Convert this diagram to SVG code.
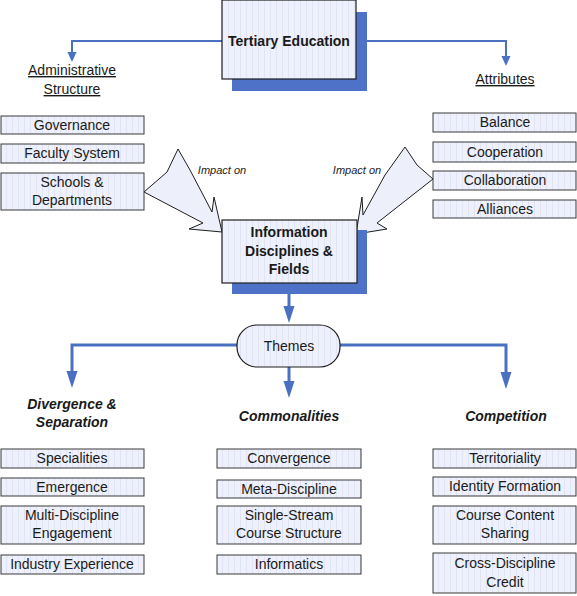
<svg xmlns="http://www.w3.org/2000/svg" width="577" height="596" viewBox="0 0 577 596">
<defs>
<style>
.box{fill:url(#grid);stroke:#3a3a3a;stroke-width:1}
.main{fill:url(#grid);stroke:#1e1e1e;stroke-width:1.2}
.shadow{fill:#4e72c8}
.t{font-family:"Liberation Sans",Arial,sans-serif;font-size:14px;fill:#1a1a1a;text-anchor:middle}
.b{font-weight:bold}
.h{font-weight:bold;font-style:italic}
.u{text-decoration:underline}
.imp{font-family:"Liberation Sans",Arial,sans-serif;font-size:11px;font-style:italic;fill:#222;text-anchor:middle}
.con{fill:none;stroke:#4a70c2}
.thin{stroke-width:2}
.thick{stroke-width:3}
.blk{fill:#edf0fb;stroke:#1e1e1e;stroke-width:1}
</style>
<pattern id="grid" patternUnits="userSpaceOnUse" width="6" height="6">
<rect width="6" height="6" fill="#eef0fb"/>
<line x1="0.5" y1="0" x2="0.5" y2="6" stroke="#e0e4f4" stroke-width="1"/>
</pattern>
<marker id="ahS" markerUnits="userSpaceOnUse" markerWidth="11" markerHeight="10" refX="6" refY="4.5" orient="auto">
<path d="M0,0 L10,4.5 L0,9 z" fill="#4a70c2"/>
</marker>
<marker id="ahL" markerUnits="userSpaceOnUse" markerWidth="18" markerHeight="12" refX="10" refY="5.5" orient="auto">
<path d="M0,0 L17,5.5 L0,11 z" fill="#4a70c2"/>
</marker>
</defs>
<rect width="577" height="596" fill="#ffffff"/>

<g id="connectors">
<path class="con thin" d="M222,41 H72 V58" marker-end="url(#ahS)"/>
<path class="con thin" d="M356,41 H506 V62" marker-end="url(#ahS)"/>
<path class="con thick" d="M289,294 V316" marker-end="url(#ahL)"/>
<path class="con thick" d="M237,345 H72 V381" marker-end="url(#ahL)"/>
<path class="con thick" d="M340,345 H506 V382" marker-end="url(#ahL)"/>
<path class="con thick" d="M289,367 V391" marker-end="url(#ahL)"/>
<polygon class="blk" points="144,192 167,172 178,149 190,170 212,212 214,197 222,232 189,229 203,223"/>
<polygon class="blk" points="433,179 417,165 405,147 385,175 363,215 362,197 356,234 387,229 377,223"/>
<text class="imp" x="222" y="174">Impact on</text>
<text class="imp" x="357" y="174">Impact on</text>
</g>

<g id="tertiary">
<rect class="shadow" x="232" y="12" width="135" height="79"/>
<rect class="main" x="222" y="0" width="134" height="79"/>
<text class="t b" x="289" y="46">Tertiary Education</text>
</g>

<g id="admin">
<text class="t u" x="72" y="75">Administrative</text>
<text class="t u" x="72" y="94">Structure</text>
</g>
<g id="attributes">
<text class="t u" x="505" y="84">Attributes</text>
</g>

<g id="governance"><rect class="box" x="1" y="116" width="143" height="18"/><text class="t" x="72" y="130">Governance</text></g>
<g id="faculty"><rect class="box" x="1" y="144" width="143" height="19"/><text class="t" x="72" y="158">Faculty System</text></g>
<g id="schools"><rect class="box" x="1" y="173" width="143" height="37"/><text class="t" x="72" y="187">Schools &amp;</text><text class="t" x="72" y="205">Departments</text></g>

<g id="balance"><rect class="box" x="433" y="113" width="143" height="19"/><text class="t" x="505" y="127">Balance</text></g>
<g id="cooperation"><rect class="box" x="433" y="142" width="143" height="20"/><text class="t" x="505" y="157">Cooperation</text></g>
<g id="collaboration"><rect class="box" x="433" y="171" width="143" height="19"/><text class="t" x="505" y="185">Collaboration</text></g>
<g id="alliances"><rect class="box" x="433" y="200" width="143" height="18"/><text class="t" x="505" y="214">Alliances</text></g>

<g id="information">
<rect class="shadow" x="232" y="230" width="135" height="64"/>
<rect class="main" x="222" y="220" width="135" height="63"/>
<text class="t b" x="289" y="237">Information</text>
<text class="t b" x="289" y="256">Disciplines &amp;</text>
<text class="t b" x="289" y="274">Fields</text>
</g>

<g id="themes">
<rect class="main" x="237" y="325" width="103" height="42" rx="20" ry="20"/>
<text class="t" x="289" y="351">Themes</text>
</g>

<g id="divergence"><text class="t h" x="72" y="409">Divergence &amp;</text><text class="t h" x="72" y="427">Separation</text></g>
<g id="commonalities"><text class="t h" x="289" y="421">Commonalities</text></g>
<g id="competition"><text class="t h" x="506" y="421">Competition</text></g>

<g id="specialities"><rect class="box" x="1" y="449" width="143" height="19"/><text class="t" x="72" y="463">Specialities</text></g>
<g id="emergence"><rect class="box" x="1" y="478" width="143" height="18"/><text class="t" x="72" y="492">Emergence</text></g>
<g id="multi"><rect class="box" x="1" y="506" width="143" height="38"/><text class="t" x="72" y="520">Multi-Discipline</text><text class="t" x="72" y="538">Engagement</text></g>
<g id="industry"><rect class="box" x="1" y="555" width="143" height="19"/><text class="t" x="72" y="569">Industry Experience</text></g>

<g id="convergence"><rect class="box" x="217" y="449" width="144" height="19"/><text class="t" x="289" y="463">Convergence</text></g>
<g id="meta"><rect class="box" x="217" y="480" width="144" height="18"/><text class="t" x="289" y="494">Meta-Discipline</text></g>
<g id="single"><rect class="box" x="217" y="506" width="144" height="38"/><text class="t" x="289" y="520">Single-Stream</text><text class="t" x="289" y="538">Course Structure</text></g>
<g id="informatics"><rect class="box" x="217" y="555" width="144" height="19"/><text class="t" x="289" y="569">Informatics</text></g>

<g id="territoriality"><rect class="box" x="433" y="449" width="143" height="19"/><text class="t" x="505" y="463">Territoriality</text></g>
<g id="identity"><rect class="box" x="433" y="477" width="143" height="19"/><text class="t" x="505" y="491">Identity Formation</text></g>
<g id="course"><rect class="box" x="433" y="506" width="143" height="38"/><text class="t" x="505" y="520">Course Content</text><text class="t" x="505" y="538">Sharing</text></g>
<g id="cross"><rect class="box" x="433" y="553" width="143" height="40"/><text class="t" x="505" y="568">Cross-Discipline</text><text class="t" x="505" y="587">Credit</text></g>
</svg>
